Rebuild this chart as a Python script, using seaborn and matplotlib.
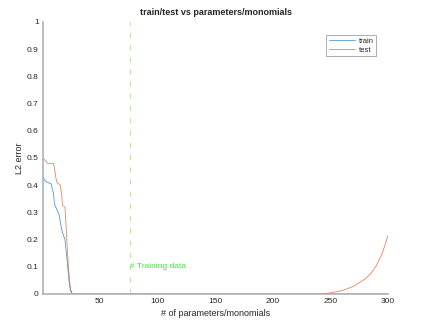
import pandas as pd
import seaborn as sns
import matplotlib.pyplot as plt

# ---------------------------------------------------------------------------
# Data
# ---------------------------------------------------------------------------

train_x = [1, 3, 5, 8, 10, 11, 13, 15, 17, 18, 20, 21, 22, 23, 24, 25, 26, 27, 30, 100, 200, 300]
train_y = [0.43, 0.415, 0.41, 0.405, 0.37, 0.33, 0.31, 0.29, 0.24, 0.225, 0.2, 0.16, 0.12, 0.07, 0.03, 0.01, 0.003, 0.0, 0.0, 0.0, 0.0, 0.0]

test_x = [1, 3, 5, 8, 10, 11, 12, 13, 16, 17, 18, 20, 21, 22, 23, 24, 25, 26, 27, 30, 100, 200, 240,
          250, 260, 270, 280, 285, 290, 295, 300]
test_y = [0.5, 0.49, 0.48, 0.48, 0.48, 0.46, 0.43, 0.41, 0.40, 0.37, 0.325, 0.32, 0.25, 0.17, 0.10, 0.05, 0.015, 0.004, 0.0, 0.0, 0.0, 0.0, 0.0,
          0.004, 0.012, 0.028, 0.055, 0.075, 0.105, 0.15, 0.215]

training_size = 76

# ---------------------------------------------------------------------------
# Build long-form table
# ---------------------------------------------------------------------------

df = pd.concat([
    pd.DataFrame({"n": train_x, "err": train_y, "set": "train"}),
    pd.DataFrame({"n": test_x, "err": test_y, "set": "test"}),
], ignore_index=True)

sns.set_style("white")
plt.rcParams["font.family"] = ["Liberation Sans", "DejaVu Sans"]

fig = plt.figure(figsize=(4.26, 3.27), dpi=100)
ax = fig.add_axes([0.101, 0.101, 0.81, 0.832])

sns.lineplot(data=df, x="n", y="err", hue="set", palette=["#0072BD", "#D95319"],
             linewidth=0.6, alpha=0.7, ax=ax, estimator=None, sort=False)

ax.axvline(training_size, color="#b4ee8c", linestyle=(0, (4.5, 6.5)), linewidth=0.8)
ax.text(training_size + 0.5, 0.1, "# Training data", color="#33ee33", fontsize=6, va="center")

ax.set_xlim(1, 300)
ax.set_ylim(0, 1)
ax.set_xticks([50, 100, 150, 200, 250, 300])
ax.set_yticks([0, 0.1, 0.2, 0.3, 0.4, 0.5, 0.6, 0.7, 0.8, 0.9, 1])
ax.set_yticklabels(["0", "0.1", "0.2", "0.3", "0.4", "0.5", "0.6", "0.7", "0.8", "0.9", "1"])
ax.tick_params(direction="in", length=2.5, width=0.5, labelsize=6, colors="#262626", pad=3)

for side in ["top", "right"]:
    ax.spines[side].set_visible(False)
for side in ["left", "bottom"]:
    ax.spines[side].set_color("#b0b0b0")
    ax.spines[side].set_linewidth(1.2)

ax.set_xlabel("# of parameters/monomials", fontsize=6.5, color="#262626", labelpad=3)
ax.set_ylabel("L2 error", fontsize=6.5, color="#262626", labelpad=2)
ax.set_title("train/test vs parameters/monomials", fontsize=6.5, fontweight="bold", pad=5)

leg = ax.legend(loc="upper right", bbox_to_anchor=(0.975, 0.965), fontsize=5.5, frameon=True,
                fancybox=False, handlelength=3.5, borderpad=0.3, labelspacing=0.2, handletextpad=0.4)
leg.get_frame().set_edgecolor("#999999")
leg.get_frame().set_linewidth(0.7)

fig.savefig("out.png", dpi=100)
